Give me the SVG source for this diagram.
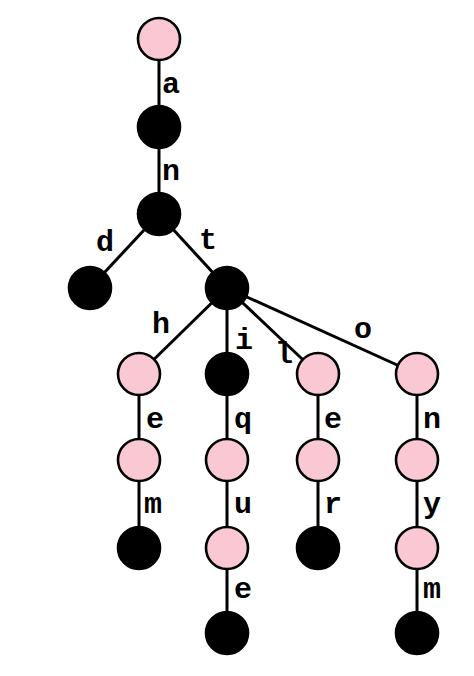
<svg xmlns="http://www.w3.org/2000/svg" width="474" height="676" viewBox="0 0 474 676">
<style>
.e{stroke:#000;stroke-width:3;fill:none}
.p{fill:#f9c8d3;stroke:#000;stroke-width:2.6}
.b{fill:#000;stroke:#000;stroke-width:2.6}
.t{font-family:"Liberation Mono","Courier New",monospace;font-weight:bold;font-size:30px;fill:#000}
</style>
<rect width="474" height="676" fill="#fff"/>
<g id="edges">
<line class="e" x1="159" y1="39" x2="159" y2="127"/>
<line class="e" x1="159" y1="127" x2="159" y2="214"/>
<line class="e" x1="159" y1="214" x2="90" y2="288"/>
<line class="e" x1="159" y1="214" x2="227" y2="288"/>
<line class="e" x1="227" y1="288" x2="139" y2="374"/>
<line class="e" x1="227" y1="288" x2="227" y2="374"/>
<line class="e" x1="227" y1="288" x2="318" y2="374"/>
<line class="e" x1="227" y1="288" x2="417" y2="374"/>
<line class="e" x1="139" y1="374" x2="139" y2="548"/>
<line class="e" x1="227" y1="374" x2="227" y2="633"/>
<line class="e" x1="318" y1="374" x2="318" y2="548"/>
<line class="e" x1="417" y1="374" x2="417" y2="633"/>
</g>
<g id="labels">
<text class="t" x="162" y="93">a</text>
<text class="t" x="162" y="180">n</text>
<text class="t" x="96" y="251">d</text>
<text class="t" x="199" y="249">t</text>
<text class="t" x="152" y="333">h</text>
<text class="t" x="235" y="349">i</text>
<text class="t" x="275" y="363">l</text>
<text class="t" x="354" y="338">o</text>
<text class="t" x="146" y="428">e</text>
<text class="t" x="144" y="513">m</text>
<text class="t" x="234" y="428">q</text>
<text class="t" x="234" y="513">u</text>
<text class="t" x="234" y="598">e</text>
<text class="t" x="324" y="428">e</text>
<text class="t" x="324" y="513">r</text>
<text class="t" x="423" y="428">n</text>
<text class="t" x="423" y="513">y</text>
<text class="t" x="423" y="598">m</text>
</g>
<g id="n_root"><circle class="p" cx="159" cy="39" r="21"/></g>
<g id="n_a"><circle class="b" cx="159" cy="127" r="21"/></g>
<g id="n_an"><circle class="b" cx="159" cy="214" r="21"/></g>
<g id="n_and"><circle class="b" cx="90" cy="288" r="21"/></g>
<g id="n_ant"><circle class="b" cx="227" cy="288" r="21"/></g>
<g id="n_anth"><circle class="p" cx="139" cy="374" r="21"/></g>
<g id="n_anti"><circle class="b" cx="227" cy="374" r="21"/></g>
<g id="n_antl"><circle class="p" cx="318" cy="374" r="21"/></g>
<g id="n_anto"><circle class="p" cx="417" cy="374" r="21"/></g>
<g id="n_anthe"><circle class="p" cx="139" cy="460" r="21"/></g>
<g id="n_anthem"><circle class="b" cx="139" cy="548" r="21"/></g>
<g id="n_antiq"><circle class="p" cx="227" cy="460" r="21"/></g>
<g id="n_antiqu"><circle class="p" cx="227" cy="548" r="21"/></g>
<g id="n_antique"><circle class="b" cx="227" cy="633" r="21"/></g>
<g id="n_antle"><circle class="p" cx="318" cy="460" r="21"/></g>
<g id="n_antler"><circle class="b" cx="318" cy="548" r="21"/></g>
<g id="n_anton"><circle class="p" cx="417" cy="460" r="21"/></g>
<g id="n_antony"><circle class="p" cx="417" cy="548" r="21"/></g>
<g id="n_antonym"><circle class="b" cx="417" cy="633" r="21"/></g>
</svg>
